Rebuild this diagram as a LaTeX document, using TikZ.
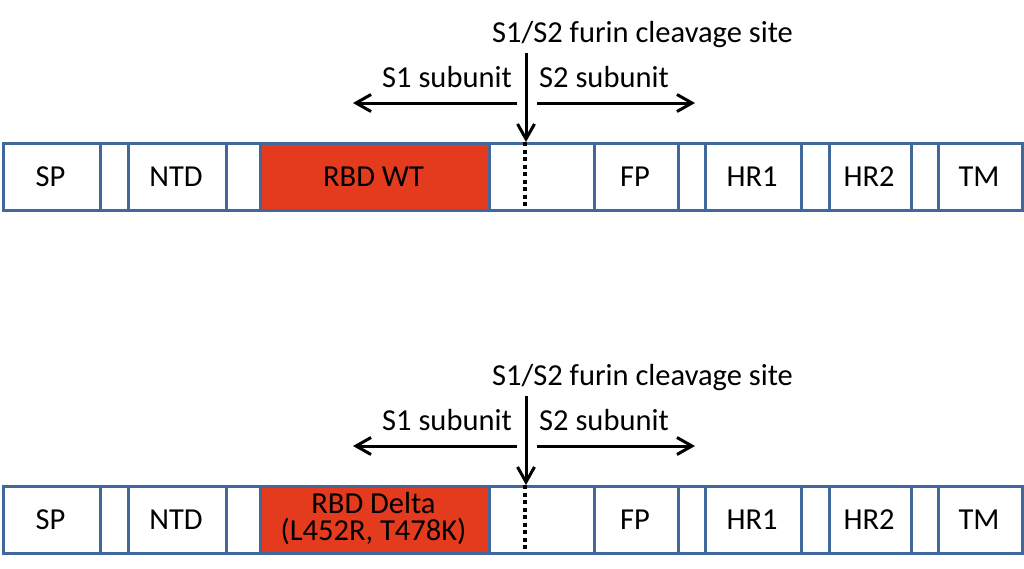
\documentclass[tikz,border=0pt]{standalone}
\usepackage{fontspec}
\setmainfont{Carlito}
\usetikzlibrary{arrows.meta}
\definecolor{boxblue}{HTML}{41689A}
\definecolor{rbdred}{HTML}{E43B1E}
\tikzset{
  seg/.style={draw=boxblue,line width=3pt,inner sep=0pt,minimum height=67pt,fill=white},
  lbl/.style={anchor=base,inner sep=0pt,font=\fontsize{30.5}{27}\selectfont},
  arr/.style={line width=3pt,-{Straight Barb[length=15pt,width=17pt,line width=3pt]}},
  cut/.style={line width=4pt,dash pattern=on 4pt off 3.5pt}
}
\begin{document}
\begin{tikzpicture}[x=1pt,y=-1pt]
\useasboundingbox (0,0) rectangle (1024,568);
\foreach \r/\T in {a/142,b/485}{
  \foreach \n/\xa/\xb/\f in {sp/2/99/white,ga/99/127/white,ntd/127/225/white,gb/225/259/white,rbd/259/488/rbdred,gc/488/593/white,fp/593/677/white,gd/677/704/white,hra/704/800/white,ge/800/828/white,hrb/828/910/white,gf/910/937/white,tm/937/1021/white}{
    \node[seg,fill=\f,minimum width={\xb-\xa},anchor=north west] (\r\n) at (\xa,\T) {};
  }
}
% row labels
\foreach \r/\Y in {a/186,b/529}{
  \node[lbl] (\r-sp-t) at (50.5,\Y) {SP};
  \node[lbl] (\r-ntd-t) at (176,\Y) {NTD};
  \node[lbl] (\r-fp-t) at (635,\Y) {FP};
  \node[lbl] (\r-hra-t) at (752,\Y) {HR1};
  \node[lbl] (\r-hrb-t) at (869,\Y) {HR2};
  \node[lbl] (\r-tm-t) at (979,\Y) {TM};
}
\node[lbl] (a-rbd-t) at (373.5,186) {RBD WT};
\node[lbl,align=center] (b-rbd-t) at (373.5,540) {RBD Delta\\(L452R, T478K)};
% cleavage annotations
\foreach \r/\d in {a/0,b/343}{
  \node[lbl] (\r-site) at (642.5,42+\d) {S1/S2 furin cleavage site};
  \node[lbl,anchor=base west] (\r-s1) at (382,87+\d) {S1 subunit};
  \node[lbl,anchor=base west] (\r-s2) at (539,87+\d) {S2 subunit};
  \coordinate (\r-vtop) at (526,53+\d);
  \coordinate (\r-vbot) at (526,142+\d);
  \coordinate (\r-lst) at (517,103+\d);
  \coordinate (\r-lend) at (353,103+\d);
  \coordinate (\r-rst) at (537,103+\d);
  \coordinate (\r-rend) at (695,103+\d);
  \coordinate (\r-dtop) at (525,142+\d);
  \coordinate (\r-dbot) at (525,209+\d);
  \draw[cut] (\r-dtop) -- (\r-dbot);
  \draw[arr] (\r-vtop) -- (\r-vbot);
  \draw[arr] (\r-lst) -- (\r-lend);
  \draw[arr] (\r-rst) -- (\r-rend);
}
\end{tikzpicture}
\end{document}
